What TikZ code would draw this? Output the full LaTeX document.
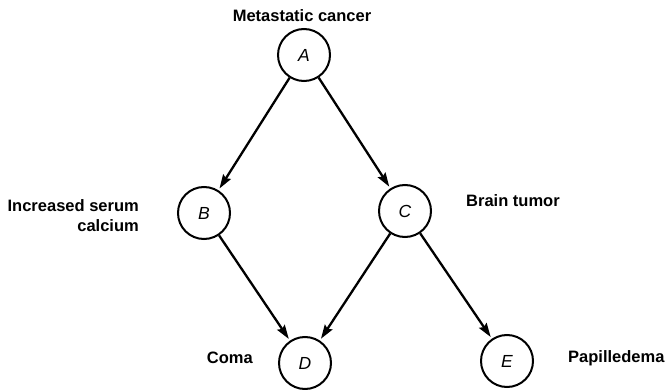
\documentclass[tikz,border=0pt]{standalone}
\usepackage{fontspec}
\setmainfont{Liberation Sans}
\usetikzlibrary{arrows.meta}
\tikzset{
  state/.style={circle, draw, line width=2pt, minimum size=52pt, inner sep=0pt, font=\fontsize{17.5}{19}\selectfont\itshape},
  lbl/.style={inner sep=0pt, font=\fontsize{16.5}{20}\selectfont\bfseries},
  edge/.style={line width=2.3pt, -{Stealth[length=14pt,width=9pt,inset=2pt]}, shorten >=2pt}
}
\begin{document}
\begin{tikzpicture}[x=1pt,y=-1pt]
\useasboundingbox (0,0) rectangle (666,390);
\node[state] (A) at (304,55) {A};
\node[state] (B) at (204,213) {B};
\node[state] (C) at (405,211) {C};
\node[state] (D) at (305,363) {D};
\node[state] (E) at (507,361) {E};
\node[lbl, anchor=base] (la) at (302,22) {Metastatic cancer};
\node[lbl, anchor=north east, align=right] (lb) at (139,199) {Increased serum\\calcium};
\node[lbl, anchor=base west] (lc) at (466,207) {Brain tumor};
\node[lbl, anchor=base east] (ld) at (253,363) {Coma};
\node[lbl, anchor=base west] (le) at (568,362) {Papilledema};
\draw[edge] (A) -- (B);
\draw[edge] (A) -- (C);
\draw[edge] (B) -- (D);
\draw[edge] (C) -- (D);
\draw[edge] (C) -- (E);
\end{tikzpicture}
\end{document}
